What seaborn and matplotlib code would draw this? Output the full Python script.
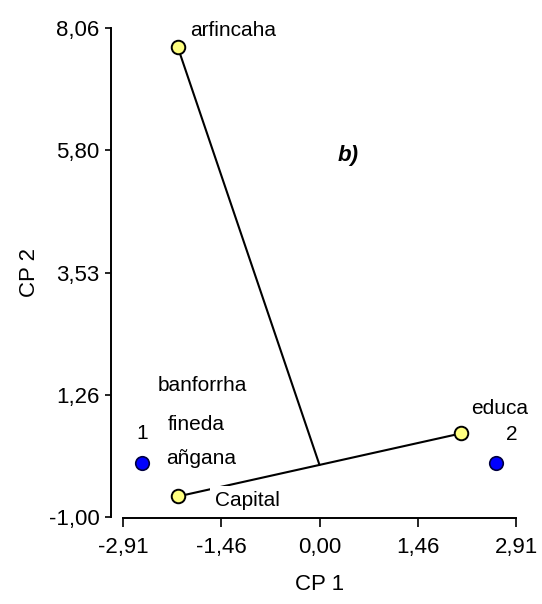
import numpy as np
import pandas as pd
import matplotlib
matplotlib.use("Agg")
import matplotlib.pyplot as plt
import seaborn as sns

# variables (yellow) - CP1 / CP2
var_names = ["arfincaha", "Capital", "educa"]
var_cp1 = [-2.10, -2.10, 2.10]
var_cp2 = [7.71, -0.62, 0.55]

# groups (blue)
grp_names = ["1", "2"]
grp_cp1 = [-2.63, 2.61]
grp_cp2 = [0.00, 0.00]

# variable labels without a visible marker
extra_names = ["banforrha", "fineda", "añgana"]
extra_cp1 = [-1.73, -1.82, -1.76]
extra_cp2 = [1.44, 0.71, 0.08]

xticks = [-2.91, -1.46, 0.00, 1.46, 2.91]
yticks = [-1.00, 1.26, 3.53, 5.80, 8.06]

sns.set_style("ticks")
plt.rcParams['font.family'] = ['Liberation Sans', 'DejaVu Sans']
plt.rcParams['text.color'] = 'black'
plt.rcParams['axes.labelcolor'] = 'black'

fig = plt.figure(figsize=(5.42, 6.04), dpi=100)
ax = fig.add_axes([123 / 542, 1 - 517 / 604, 393 / 542, 489 / 604])

df_var = pd.DataFrame({'CP1': var_cp1, 'CP2': var_cp2, 'name': var_names})
df_grp = pd.DataFrame({'CP1': grp_cp1, 'CP2': grp_cp2, 'name': grp_names})

# tree segments: Capital - educa, and arfincaha to the middle of that segment
mid_x = (var_cp1[1] + var_cp1[2]) / 2
mid_y = (var_cp2[1] + var_cp2[2]) / 2
ax.plot([var_cp1[1], var_cp1[2]], [var_cp2[1], var_cp2[2]], color='black', lw=1.5, zorder=2)
ax.plot([var_cp1[0], mid_x], [var_cp2[0], mid_y], color='black', lw=1.5, zorder=2)

sns.scatterplot(data=df_var, x='CP1', y='CP2', color='#FFFF80', edgecolor='black',
                s=95, linewidth=1.4, zorder=3, ax=ax)
sns.scatterplot(data=df_grp, x='CP1', y='CP2', color='#0000FF', edgecolor='#000040',
                s=95, linewidth=1.2, zorder=3, ax=ax)

# label offsets (points)
offsets = {
    "arfincaha": (8.6, 12.0, 'left'),
    "Capital": (26.6, -2.9, 'left'),
    "educa": (7.2, 18.0, 'left'),
    "1": (0.0, 21.6, 'center'),
    "2": (11.5, 20.2, 'center'),
}
for df in (df_var, df_grp):
    for _, r in df.iterrows():
        dx, dy, ha = offsets[r['name']]
        kw = {}
        if r['name'] == "Capital":
            kw['bbox'] = dict(facecolor='white', edgecolor='none', pad=3.5)
        ax.annotate(r['name'], (r['CP1'], r['CP2']), xytext=(dx, dy),
                    textcoords='offset points', ha=ha, va='center',
                    fontsize=15, zorder=6, annotation_clip=False, **kw)

for n, x, y in zip(extra_names, extra_cp1, extra_cp2):
    ax.text(x, y, n, ha='center', va='center', fontsize=15, zorder=6)

ax.text(0.42, 5.70, "b)", fontsize=16, fontweight='bold', fontstyle='italic',
        ha='center', va='center')

ax.set_xlim(xticks[0], xticks[-1])
ax.set_ylim(yticks[0], yticks[-1])
ax.set_xticks(xticks)
ax.set_yticks(yticks)
ax.set_xticklabels([f"{v:.2f}".replace(".", ",") for v in xticks])
ax.set_yticklabels([f"{v:.2f}".replace(".", ",") for v in yticks])

ax.spines['top'].set_visible(False)
ax.spines['right'].set_visible(False)
ax.spines['left'].set_position(('outward', 8.6))
ax.spines['bottom'].set_position(('outward', 0.7))
for s in ('left', 'bottom'):
    ax.spines[s].set_linewidth(1.4)
    ax.spines[s].set_color('black')
ax.tick_params(axis='x', length=6.5, width=1.2, pad=7, labelsize=16, colors='black')
ax.tick_params(axis='y', length=4.5, width=1.2, pad=4, labelsize=16, colors='black')

ax.set_xlabel("CP 1", fontsize=16, labelpad=12)
ax.set_ylabel("CP 2", fontsize=16, labelpad=6)

fig.savefig("out.png", dpi=100)
